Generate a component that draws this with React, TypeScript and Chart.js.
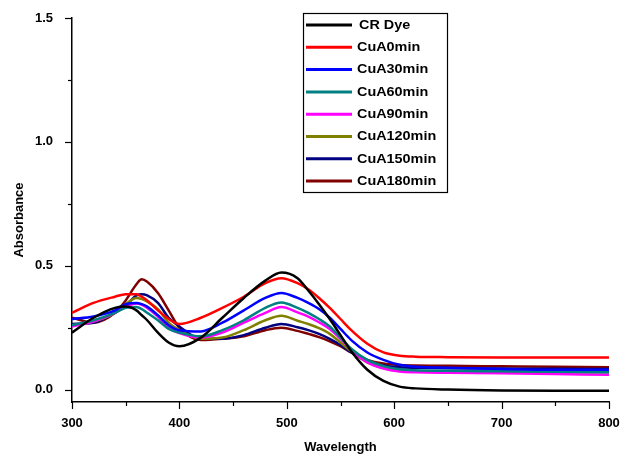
import React, { useEffect, useRef } from 'react';
import { Chart, registerables } from 'chart.js';
Chart.register(...registerables);

const wavelengths = [300, 320, 340, 350, 360, 365, 370, 380, 390, 400, 420, 440, 460, 480, 495, 510, 520, 530, 540, 550, 560, 575, 590, 605, 620, 650, 700, 750, 800];

const crDye = [0.23, 0.29, 0.33, 0.335, 0.32, 0.3, 0.28, 0.23, 0.19, 0.175, 0.21, 0.29, 0.37, 0.44, 0.473, 0.45, 0.4, 0.345, 0.285, 0.22, 0.155, 0.08, 0.035, 0.012, 0.005, 0.0, -0.004, -0.005, -0.005];
const cuA0 = [0.31, 0.35, 0.375, 0.385, 0.385, 0.375, 0.36, 0.32, 0.285, 0.265, 0.29, 0.33, 0.375, 0.43, 0.45, 0.43, 0.405, 0.37, 0.33, 0.285, 0.24, 0.185, 0.15, 0.137, 0.133, 0.131, 0.13, 0.13, 0.13];
const cuA30 = [0.285, 0.295, 0.32, 0.345, 0.35, 0.345, 0.335, 0.3, 0.26, 0.24, 0.235, 0.27, 0.32, 0.37, 0.39, 0.37, 0.35, 0.325, 0.29, 0.245, 0.2, 0.15, 0.12, 0.1, 0.092, 0.088, 0.083, 0.08, 0.08];
const cuA60 = [0.26, 0.28, 0.31, 0.33, 0.333, 0.325, 0.31, 0.28, 0.245, 0.23, 0.215, 0.24, 0.28, 0.33, 0.352, 0.33, 0.31, 0.285, 0.255, 0.21, 0.165, 0.12, 0.095, 0.082, 0.078, 0.076, 0.074, 0.072, 0.07];
const cuA90 = [0.255, 0.275, 0.31, 0.335, 0.348, 0.342, 0.33, 0.295, 0.25, 0.228, 0.21, 0.23, 0.27, 0.31, 0.333, 0.312, 0.295, 0.272, 0.245, 0.205, 0.16, 0.11, 0.085, 0.073, 0.07, 0.068, 0.066, 0.063, 0.06];
const cuA120 = [0.26, 0.275, 0.31, 0.345, 0.37, 0.365, 0.355, 0.325, 0.27, 0.24, 0.205, 0.21, 0.24, 0.28, 0.298, 0.278, 0.265, 0.248, 0.225, 0.19, 0.155, 0.11, 0.087, 0.077, 0.074, 0.073, 0.072, 0.071, 0.07];
const cuA150 = [0.265, 0.27, 0.31, 0.34, 0.38, 0.385, 0.38, 0.35, 0.29, 0.255, 0.205, 0.205, 0.22, 0.25, 0.265, 0.252, 0.24, 0.225, 0.205, 0.18, 0.15, 0.115, 0.097, 0.09, 0.088, 0.086, 0.085, 0.084, 0.083];
const cuA180 = [0.29, 0.27, 0.31, 0.36, 0.425, 0.445, 0.435, 0.39, 0.32, 0.25, 0.2, 0.205, 0.215, 0.24, 0.25, 0.237, 0.225, 0.212, 0.195, 0.175, 0.15, 0.12, 0.105, 0.099, 0.097, 0.096, 0.094, 0.092, 0.09];

const seriesNames = ['CR Dye', 'CuA0min', 'CuA30min', 'CuA60min', 'CuA90min', 'CuA120min', 'CuA150min', 'CuA180min'];
const seriesColors = ['#000000', '#ff0000', '#0000ff', '#008080', '#ff00ff', '#808000', '#000080', '#800000'];

const yTicks = [0, 0.25, 0.5, 0.75, 1.0, 1.25, 1.5];
const xTicks = [300, 350, 400, 450, 500, 550, 600, 650, 700, 750, 800];

const FONT = "'Liberation Sans', Arial, sans-serif";

export default function App() {
  const ref = useRef<HTMLCanvasElement>(null);

  useEffect(() => {
    const series = [crDye, cuA0, cuA30, cuA60, cuA90, cuA120, cuA150, cuA180];
    const datasets = series.map((vals, i) => ({
      label: seriesNames[i],
      data: vals.map((v, j) => ({ x: wavelengths[j], y: v })),
      borderColor: seriesColors[i],
      backgroundColor: seriesColors[i],
      borderWidth: 2.5,
      pointRadius: 0,
      cubicInterpolationMode: 'monotone' as const,
      fill: false,
    }));

    const decor = {
      id: 'decor',
      afterDraw(chart: any) {
        const ctx = chart.ctx;
        const xs = chart.scales.x;
        const ys = chart.scales.y;
        const left = chart.chartArea.left;
        const bottom = chart.chartArea.bottom;
        ctx.save();
        ctx.strokeStyle = '#000';
        ctx.lineWidth = 1.2;
        yTicks.forEach((v) => {
          const py = Math.round(ys.getPixelForValue(v)) + 0.5;
          const major = Math.abs(v * 2 - Math.round(v * 2)) < 1e-6;
          ctx.beginPath();
          ctx.moveTo(left - (major ? 7 : 4), py);
          ctx.lineTo(left, py);
          ctx.stroke();
        });
        xTicks.forEach((v) => {
          const px = Math.round(xs.getPixelForValue(v)) + 0.5;
          const major = v % 100 === 0;
          ctx.beginPath();
          ctx.moveTo(px, bottom);
          ctx.lineTo(px, bottom + (major ? 7 : 4));
          ctx.stroke();
        });
        ctx.fillStyle = '#000';
        ctx.font = `bold 13px ${FONT}`;
        ctx.textAlign = 'center';
        ctx.textBaseline = 'middle';
        ctx.fillText('Wavelength', (chart.chartArea.left + chart.chartArea.right) / 2, 447);
        ctx.save();
        ctx.translate(19, 220);
        ctx.rotate(-Math.PI / 2);
        ctx.fillText('Absorbance', 0, 0);
        ctx.restore();
        ctx.lineWidth = 1.2;
        ctx.strokeStyle = '#000';
        ctx.strokeRect(303.5, 13.5, 144, 179);
        seriesNames.forEach((name, i) => {
          const y = 25 + i * 22.3;
          ctx.strokeStyle = seriesColors[i];
          ctx.lineWidth = 3;
          ctx.beginPath();
          ctx.moveTo(306, y);
          ctx.lineTo(352, y);
          ctx.stroke();
          ctx.save();
          ctx.translate(i === 0 ? 359 : 357, y);
          ctx.scale(1.2, 1);
          ctx.fillStyle = '#000';
          ctx.font = `bold 12px ${FONT}`;
          ctx.textAlign = 'left';
          ctx.textBaseline = 'middle';
          ctx.fillText(name, 0, 0.5);
          ctx.restore();
        });
        ctx.restore();
      },
    };

    const chart = new Chart(ref.current as HTMLCanvasElement, {
      type: 'line',
      data: { datasets },
      plugins: [decor],
      options: {
        animation: false,
        responsive: false,
        devicePixelRatio: 1,
        layout: { padding: { top: 18, right: 13, left: 0, bottom: 0 } },
        plugins: {
          legend: { display: false },
          tooltip: { enabled: false },
        },
        scales: {
          x: {
            type: 'linear',
            min: 300,
            max: 800,
            afterBuildTicks: (axis: any) => {
              axis.ticks = xTicks.map((v) => ({ value: v }));
            },
            afterFit: (axis: any) => {
              axis.height = 54;
              axis.paddingLeft = 0;
              axis.paddingRight = 0;
            },
            grid: { display: false },
            border: { display: true, color: '#000', width: 1.5 },
            ticks: {
              color: '#000',
              font: { family: FONT, size: 13, weight: 'bold' },
              padding: 6,
              maxRotation: 0,
              autoSkip: false,
              callback: (v: any) => (Number(v) % 100 === 0 ? String(v) : ''),
            },
          },
          y: {
            type: 'linear',
            min: -0.05,
            max: 1.5,
            afterBuildTicks: (axis: any) => {
              axis.ticks = yTicks.map((v) => ({ value: v }));
            },
            afterFit: (axis: any) => {
              axis.width = 72;
              axis.paddingTop = 0;
              axis.paddingBottom = 0;
            },
            grid: { display: false },
            border: { display: true, color: '#000', width: 1.5 },
            ticks: {
              color: '#000',
              font: { family: FONT, size: 13, weight: 'bold' },
              padding: 11,
              autoSkip: false,
              callback: (v: any) => {
                const n = Number(v);
                return Math.abs(n * 2 - Math.round(n * 2)) < 1e-6 ? n.toFixed(1) : '';
              },
            },
          },
        },
      },
    });
    return () => chart.destroy();
  }, []);

  return (
    <div style={{ position: 'absolute', left: 0, top: 0, width: 622, height: 456, background: '#fff' }}>
      <canvas ref={ref} width={622} height={456} style={{ display: 'block' }} />
    </div>
  );
}
